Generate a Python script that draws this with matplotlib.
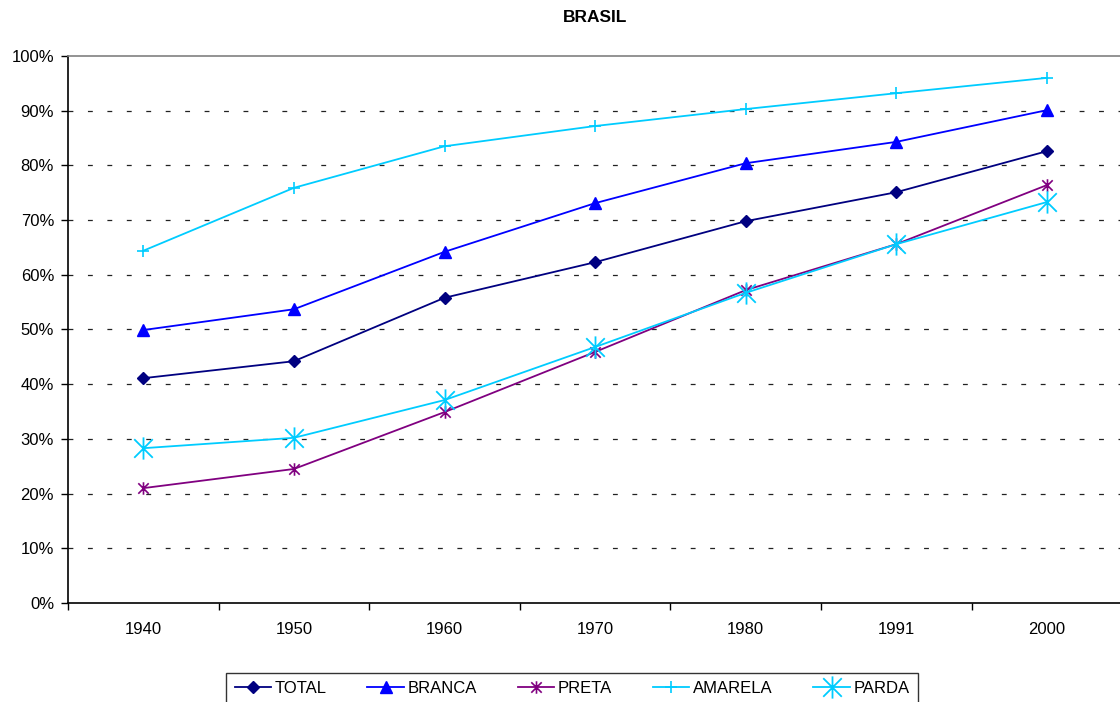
import matplotlib.pyplot as plt
import matplotlib.ticker as ticker
from matplotlib.path import Path

plt.rcParams['font.family'] = ['Liberation Sans', 'DejaVu Sans']
plt.rcParams['lines.scale_dashes'] = False

# dados (percentual)
anos = ['1940', '1950', '1960', '1970', '1980', '1991', '2000']
total = [41.1, 44.2, 55.8, 62.3, 69.8, 75.1, 82.6]
branca = [49.9, 53.7, 64.2, 73.1, 80.4, 84.3, 90.1]
preta = [21.0, 24.5, 34.9, 45.9, 57.2, 65.6, 76.4]
amarela = [64.4, 75.9, 83.5, 87.2, 90.3, 93.2, 96.0]
parda = [28.3, 30.2, 37.1, 46.8, 56.7, 65.6, 73.3]

# marcador estrela do excel: x + linha vertical
star = Path([(-1, -1), (1, 1), (-1, 1), (1, -1), (0, -1.2), (0, 1.2)],
            [Path.MOVETO, Path.LINETO, Path.MOVETO, Path.LINETO, Path.MOVETO, Path.LINETO])

fig = plt.figure(figsize=(11.2, 7.02), dpi=100)
ax = fig.add_axes([68/1120, 1 - 603/702, 1 - 68/1120 + 0.002, (603 - 56)/702])

x = list(range(len(anos)))
lw = 1.3
ax.plot(x, total, color='#000080', lw=lw, marker='D', ms=6, label='TOTAL')
ax.plot(x, branca, color='#0000FF', lw=lw, marker='^', ms=8, label='BRANCA')
ax.plot(x, preta, color='#800080', lw=lw, marker=star, ms=9, mew=1.2, label='PRETA')
ax.plot(x, amarela, color='#00CCFF', lw=lw, marker='+', ms=9, mew=1.2, label='AMARELA')
ax.plot(x, parda, color='#00CCFF', lw=lw, marker=star, ms=16, mew=1.3, label='PARDA')

ax.set_xlim(-0.5, len(anos) - 0.5)
ax.set_ylim(0, 100)

# eixo x: rótulos no centro, marcas entre categorias
ax.xaxis.set_major_locator(ticker.FixedLocator(x))
ax.xaxis.set_major_formatter(ticker.FixedFormatter(anos))
ax.xaxis.set_minor_locator(ticker.FixedLocator([i - 0.5 for i in range(len(anos) + 1)]))
ax.tick_params(axis='x', which='major', length=0, pad=14, labelsize=12)
ax.tick_params(axis='x', which='minor', length=5, width=1, color='black')

ax.yaxis.set_major_locator(ticker.MultipleLocator(10))
ax.yaxis.set_major_formatter(ticker.FuncFormatter(lambda v, p: '%d%%' % v))
ax.tick_params(axis='y', length=5, width=1, pad=5, labelsize=12)

# linhas de grade tracejadas (sem 0 e 100)
for v in range(10, 100, 10):
    ax.axhline(v, color='#222222', lw=0.9, linestyle=(0, (3.5, 10.5)), zorder=0)

ax.spines['left'].set_color('black')
ax.spines['bottom'].set_color('black')
ax.spines['top'].set_color('#808080')
ax.spines['right'].set_color('#808080')
for s in ax.spines.values():
    s.set_linewidth(1.2)

fig.text(595/1120, 1 - 18/702, 'BRASIL', ha='center', va='center',
         fontsize=12.5, fontweight='bold')

leg = fig.legend(loc='upper center', bbox_to_anchor=(572/1120, 1 - 673/702), ncol=5,
                 frameon=True, fancybox=False, edgecolor='black', fontsize=12,
                 handlelength=2.2, columnspacing=2.45, handletextpad=0.2,
                 borderpad=0.5, borderaxespad=0)
leg.get_frame().set_linewidth(1.0)

fig.savefig('out.png', dpi=100)
